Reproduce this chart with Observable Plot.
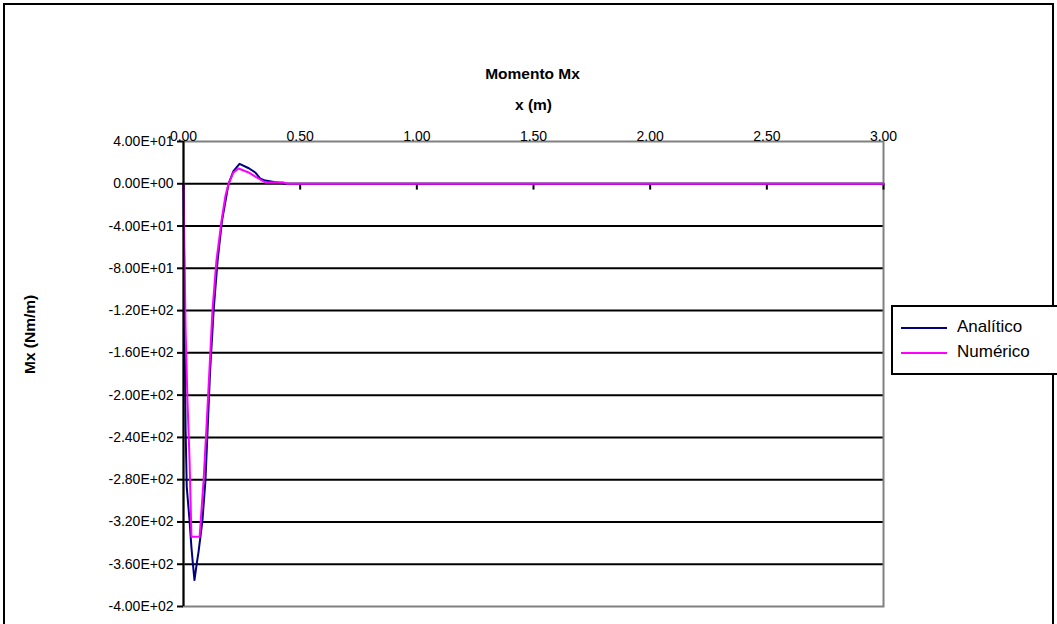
<!DOCTYPE html>
<html><head><meta charset="utf-8">
<script src="https://cdn.jsdelivr.net/npm/d3@7"></script>
<script src="https://cdn.jsdelivr.net/npm/@observablehq/plot@0.6"></script>
<style>
body{margin:0;background:#fff;font-family:"Liberation Sans",Arial,sans-serif;}
#wrap{position:relative;width:1057px;height:624px;overflow:hidden;background:#fff;}
#frame{position:absolute;z-index:1;left:3px;top:3px;width:1051px;height:700px;border:2px solid #000;box-sizing:border-box;pointer-events:none;}
#title{height:88px;box-sizing:border-box;padding-top:64px;padding-left:8px;line-height:20px;text-align:center;font-weight:bold;font-size:15.5px;color:#000;}
#legend{position:absolute;z-index:2;left:891px;top:305px;width:200px;height:70px;border:2px solid #000;box-sizing:border-box;background:#fff;font-size:17px;color:#000;}
.item{position:absolute;left:8px;height:20px;line-height:20px;white-space:nowrap;}
.item span.sw{display:inline-block;width:46px;height:2px;vertical-align:middle;margin-right:10px;}
</style></head>
<body>
<div id="wrap">
  <div id="title">Momento Mx</div>
  <div id="chart"></div>
  <div id="frame"></div>
  <div id="legend"></div>
</div>
<script>
// Data
const xAnalitico = [0, 0.004, 0.009, 0.014, 0.026, 0.034, 0.040, 0.047, 0.057, 0.064, 0.081, 0.094, 0.114, 0.129, 0.146, 0.165, 0.193, 0.214, 0.240, 0.280, 0.309, 0.330, 0.351, 0.394, 0.437, 3.0];
const yAnalitico = [0, -110, -233, -287, -319, -344, -359, -375, -359, -349, -319, -281, -177, -120, -73, -35, 0, 12, 18.9, 14.7, 10.4, 4.7, 3, 1.5, 0, 0];
const xNumerico = [0, 0.004, 0.009, 0.017, 0.026, 0.034, 0.069, 0.086, 0.100, 0.111, 0.124, 0.141, 0.163, 0.180, 0.193, 0.214, 0.236, 0.279, 0.321, 0.351, 0.424, 0.446, 3.0];
const yNumerico = [0, -63, -139, -205, -262, -334, -334, -281, -224, -177, -120, -73, -35, -11, 0, 10.7, 14.5, 10.7, 5, 1.2, 1.5, 0, 0];
const seriesNames = ["Analítico", "Numérico"];
const seriesColors = ["#000080", "#FF00FF"];
const xTicks = [0, 0.5, 1, 1.5, 2, 2.5, 3];
const yTicks = [40, 0, -40, -80, -120, -160, -200, -240, -280, -320, -360, -400];
const chartTitle = "Momento Mx";
const xLabel = "x (m)";
const yLabel = "Mx (Nm/m)";

const analitico = xAnalitico.map((x, i) => ({x, y: yAnalitico[i]}));
const numerico = xNumerico.map((x, i) => ({x, y: yNumerico[i]}));

function sci(v) {
  const s = v.toExponential(2).toUpperCase();
  return s.replace(/E([+-])(\d)$/, "E$10$2");
}

const fontFamily = '"Liberation Sans", Arial, sans-serif';
const chart = Plot.plot({
  width: 1057,
  height: 536,
  marginLeft: 183,
  marginRight: 174,
  marginTop: 53,
  marginBottom: 18,
  style: {fontFamily, fontSize: "14px", color: "#000", background: "#fff", overflow: "visible"},
  x: {domain: [0, 3]},
  y: {domain: [-400, 40]},
  marks: [
    Plot.ruleY(yTicks.filter(d => d > -400 && d < 40), {stroke: "#000", strokeWidth: 2}),
    Plot.frame({stroke: "#808080", strokeWidth: 2}),
    Plot.ruleX(xTicks, {x: d => d, y1: 0, y2: -6, stroke: "#000", strokeWidth: 2}),
    Plot.line(analitico, {x: "x", y: "y", stroke: seriesColors[0], strokeWidth: 2}),
    Plot.line(numerico, {x: "x", y: "y", stroke: seriesColors[1], strokeWidth: 2}),
    Plot.ruleX([0], {stroke: "#000", strokeWidth: 2}),
    Plot.axisY(yTicks, {anchor: "left", tickSize: 6, tickPadding: 4, tickFormat: sci, label: null, strokeWidth: 2}),
    Plot.axisX(xTicks, {anchor: "top", tickSize: 0, tickPadding: 1, tickFormat: d3.format(".2f"), label: null}),
    Plot.text([xLabel], {frameAnchor: "top", dy: -36, fontWeight: "bold", fontSize: 15.5, lineAnchor: "middle"}),
    Plot.text([yLabel], {frameAnchor: "left", dx: -153, rotate: -90, fontWeight: "bold", fontSize: 15.5, lineAnchor: "middle"})
  ]
});
document.getElementById("chart").appendChild(chart);
document.getElementById("title").textContent = chartTitle;

const legend = document.getElementById("legend");
seriesNames.forEach((name, i) => {
  const it = document.createElement("div");
  it.className = "item";
  it.style.top = (10 + i * 25) + "px";
  it.innerHTML = `<span class="sw" style="background:${seriesColors[i]}"></span>${name}`;
  legend.appendChild(it);
});
</script>
</body></html>
